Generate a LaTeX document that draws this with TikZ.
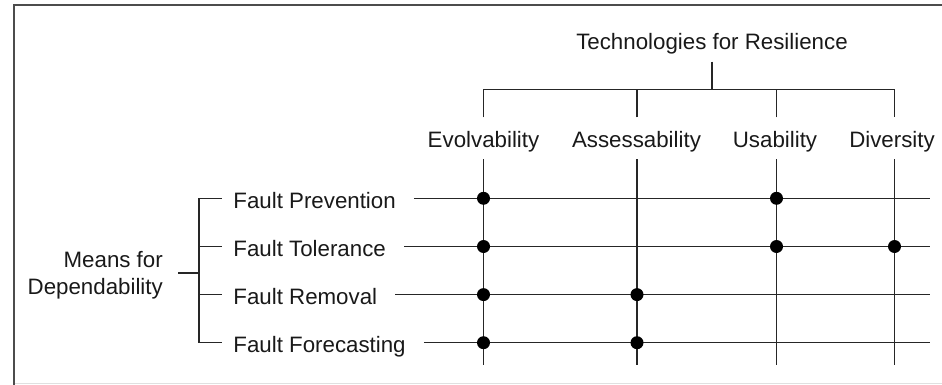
\documentclass[tikz,border=0pt]{standalone}
\usepackage{fontspec}
\setmainfont{Liberation Sans}
\begin{document}
\begin{tikzpicture}[x=1pt,y=-1pt,
  every node/.style={font=\fontsize{22.3}{27.4}\selectfont, text=black!90},
  grid/.style={line width=1.4pt, draw=black!85},
  frameline/.style={line width=2.4pt, draw=black!70},
  techlabel/.style={anchor=base, text height=22.5pt, text depth=5pt, inner ysep=7pt, inner xsep=0pt},
  rowlabel/.style={anchor=west, text height=25pt, text depth=5pt, inner ysep=0pt, inner xsep=11.5pt},
  junction/.style={circle, fill=black, inner sep=0pt, minimum size=13pt}]
\useasboundingbox (0,0) rectangle (942,385);

% frame
\draw[frameline] (14,385) -- (14,5) -- (942,5);
\draw[line width=1pt, draw=black!12] (15,383.5) -- (942,383.5);

% technologies tree
\node[anchor=base, text depth=5pt, inner ysep=6.5pt] (title) at (712,50) {Technologies for Resilience};
\node[techlabel] (evo) at (483.5,147) {Evolvability};
\node[techlabel] (ass) at (636.5,147) {Assessability};
\node[techlabel] (usa) at (775,147) {Usability};
\node[techlabel] (div) at (892,147) {Diversity};

\coordinate (bar) at (712,89.5);
\coordinate (colE) at (483.5,365);
\coordinate (colA) at (637,365);
\coordinate (colU) at (776.5,365);
\coordinate (colD) at (894.5,365);

\draw[grid] (title.south) -- (bar);
\draw[grid] (evo.north -| colE) |- (bar) -| (div.north -| colD);
\draw[grid] (ass.north -| colA) -- (bar -| colA);
\draw[grid] (usa.north -| colU) -- (bar -| colU);

% columns
\draw[grid] (evo.south -| colE) -- (colE);
\draw[grid] (ass.south -| colA) -- (colA);
\draw[grid] (usa.south -| colU) -- (colU);
\draw[grid] (div.south -| colD) -- (colD);

% means for dependability
\node[rowlabel] (fp) at (221.7,198.3) {Fault Prevention};
\node[rowlabel] (ft) at (221.7,246.5) {Fault Tolerance};
\node[rowlabel] (fr) at (221.7,294.6) {Fault Removal};
\node[rowlabel] (ff) at (221.7,342.7) {Fault Forecasting};

\node[anchor=east, align=right, inner xsep=15pt, inner ysep=0pt] (means) at (178,275)
  {Means for\\Dependability};

\coordinate (b1) at (199,198.3);
\coordinate (b2) at (199,246.5);
\coordinate (b3) at (199,294.6);
\coordinate (b4) at (199,342.7);
\coordinate (bmid) at (199,273);

\draw[grid] (fp.west) -- (b1) -- (b4) -- (ff.west);
\draw[grid] (b2) -- (ft.west);
\draw[grid] (b3) -- (fr.west);
\draw[grid] (means.east |- bmid) -- (bmid);

% rows
\coordinate (r1) at (930,198.3);
\coordinate (r2) at (930,246.5);
\coordinate (r3) at (930,294.6);
\coordinate (r4) at (930,342.7);
\draw[grid, shorten <=6.5pt] (fp.east) -- (r1);
\draw[grid, shorten <=6.5pt] (ft.east) -- (r2);
\draw[grid, shorten <=6.5pt] (fr.east) -- (r3);
\draw[grid, shorten <=6.5pt] (ff.east) -- (r4);

% junctions
\node[junction] (d1e) at (r1 -| colE) {};
\node[junction] (d1u) at (r1 -| colU) {};
\node[junction] (d2e) at (r2 -| colE) {};
\node[junction] (d2u) at (r2 -| colU) {};
\node[junction] (d2d) at (r2 -| colD) {};
\node[junction] (d3e) at (r3 -| colE) {};
\node[junction] (d3a) at (r3 -| colA) {};
\node[junction] (d4e) at (r4 -| colE) {};
\node[junction] (d4a) at (r4 -| colA) {};
\end{tikzpicture}
\end{document}
